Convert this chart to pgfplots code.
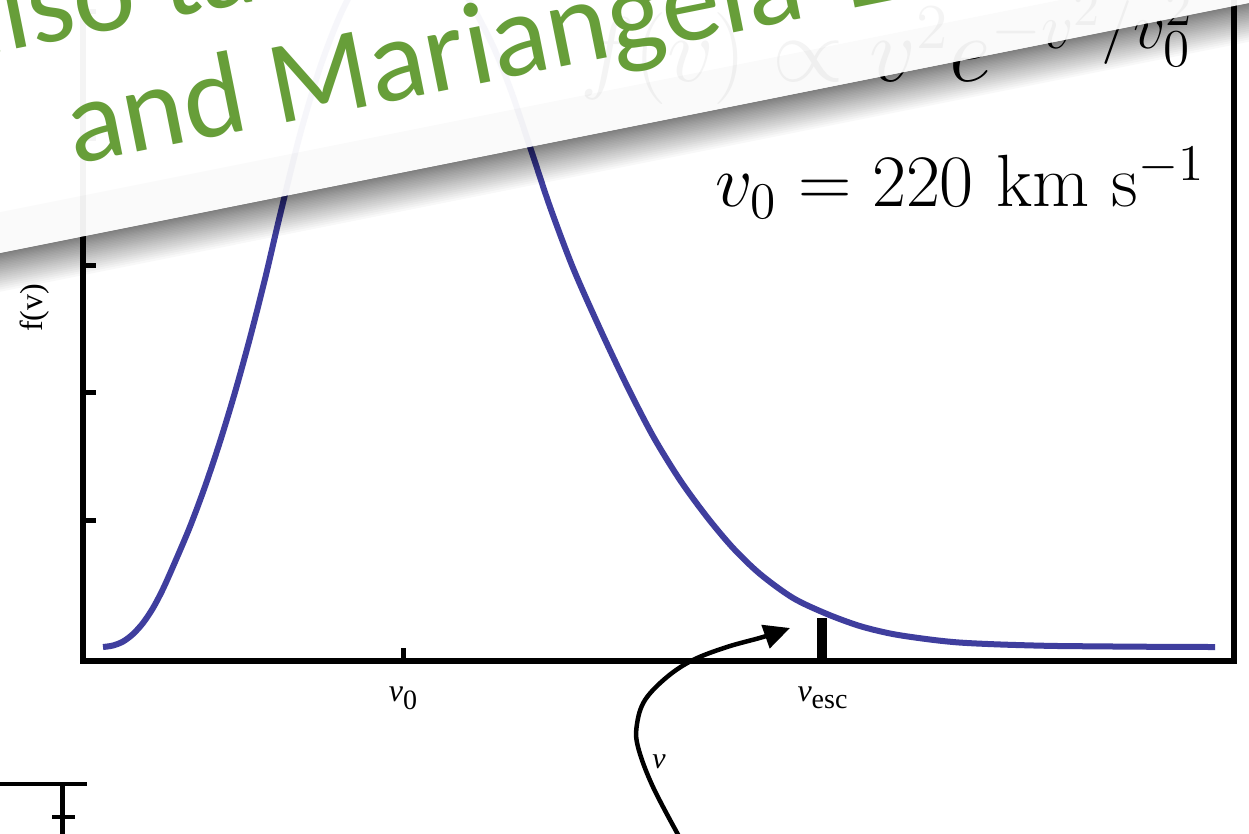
\documentclass[border=0pt]{standalone}
\usepackage{pgfplots}
\pgfplotsset{compat=1.18}
\usepackage{fontspec}
\usetikzlibrary{arrows.meta}
\newfontfamily\timesfont{Liberation Serif}
\newfontfamily\gillfont{Carlito}
\definecolor{curveblue}{RGB}{63,62,158}
\definecolor{bannergreen}{RGB}{103,158,57}

% speed distribution: v in km/s, f(v) in arbitrary units
\pgfplotstableread{
v      f
0.0    0.000
7.33   0.012
14.67  0.043
22.0   0.102
29.33  0.189
36.67  0.307
44.0   0.457
52.8   0.669
63.8   0.948
74.8   1.264
85.8   1.617
96.8   2.006
107.8  2.434
118.8  2.898
129.8  3.400
144.5  4.036
159.1  4.561
173.8  4.972
188.5  5.270
203.1  5.456
220.0  5.531
239.8  5.456
261.8  5.208
283.8  4.782
298.5  4.400
313.9  3.913
327.8  3.465
344.7  2.984
364.5  2.504
384.3  2.055
403.3  1.661
423.1  1.315
442.9  1.024
462.0  0.780
481.8  0.575
506.0  0.386
530.9  0.260
555.1  0.165
579.3  0.102
606.5  0.059
628.5  0.035
657.8  0.020
694.5  0.009
731.1  0.005
767.8  0.002
815.5  0.000
}\fvtable

\begin{document}
\begin{tikzpicture}
\useasboundingbox (0pt,0pt) rectangle (1249pt,834pt);
\clip (0pt,0pt) rectangle (1249pt,834pt);
\fill[white] (0pt,0pt) rectangle (1249pt,834pt);

% formulas in the upper right corner
\node[anchor=base east, inner sep=0pt, scale=4.436] at (1197pt,752pt)
  {\fontsize{20.74}{25}\selectfont $f(v) \propto v^2 e^{-v^2/v_0^2}$};
\node[anchor=base east, inner sep=0pt, scale=3.568] at (1206pt,627pt)
  {\fontsize{20.74}{25}\selectfont $v_0 = 220\ \mathrm{km\ s^{-1}}$};

\begin{axis}[
  at={(83pt,173pt)}, anchor=south west,
  scale only axis, width=1150.5pt, height=741pt,
  xmin=-14.67, xmax=829.0, ymin=-0.110, ymax=5.724,
  axis line style={line width=6pt, black},
  major tick style={line width=5pt, black},
  major tick length=13pt,
  tick align=inside,
  xtick={220,527.6},
  xticklabels={{\itshape v\raisebox{-8pt}{\upshape\fontsize{28}{28}\selectfont 0}},
               {\itshape v\raisebox{-7pt}{\upshape\fontsize{28}{28}\selectfont esc}}},
  xtick pos=bottom,
  xticklabel style={inner sep=0pt, yshift=-26pt, anchor=north,
                    font=\timesfont\fontsize{32}{32}\selectfont},
  ytick={1,2,3,4,5}, yticklabels={}, ytick pos=left,
  ylabel={f(v)},
  ylabel style={at={(axis description cs:-0.0417,0.4764)}, anchor=center,
                font=\timesfont\fontsize{32}{32}\selectfont},
]
\addplot[curveblue, line width=6pt, smooth, tension=0.5] table[x=v, y=f] {\fvtable};
% escape speed marker
\draw[black, line width=10pt] (axis cs:527.6,-0.110) -- (axis cs:527.6,0.228);
\end{axis}

% corner of the panel below
\draw[black, line width=4pt] (-5pt,50pt) -- (87pt,50pt);
\draw[black, line width=5pt] (62.5pt,50pt) -- (62.5pt,-5pt);
\draw[black, line width=4pt] (52pt,17pt) -- (75pt,17pt);

% curved arrow for the particle speed
\draw[black, line width=4.5pt, -{Triangle[length=26pt,width=24pt]}]
  plot[smooth, tension=0.6] coordinates {(681pt,-6pt) (653pt,47pt) (638pt,87pt)
    (637pt,110pt) (645pt,134pt) (667pt,157pt) (693pt,174pt) (727pt,187pt)
    (763pt,197pt) (790pt,206pt)};
\node[font=\timesfont\itshape\fontsize{30}{30}\selectfont] at (659pt,72pt) {v};

% tilted credit banner with drop shadow
\begin{scope}[shift={(0pt,581pt)}, rotate=11.32, x=1pt, y=1pt]
  \foreach \i in {1,...,24} {
    \pgfmathsetmacro\d{38*(\i/24)^1.4}
    \fill[black, opacity=0.028] (-300,0) rectangle (1600,-\d);
  }
  \fill[white, opacity=0.955] (-300,0) rectangle (1600,600);
  \fill[black, opacity=0.02] (-300,0) rectangle (1600,40);
  \node[anchor=base west, inner sep=0pt, rotate=11.32, text=bannergreen,
        font=\gillfont\fontsize{118}{118}\selectfont] at (-9,197) {also taken from};
  \node[anchor=base west, inner sep=0pt, rotate=11.32, text=bannergreen,
        font=\gillfont\fontsize{118}{118}\selectfont] at (90,72) {and Mariangela\hspace{0.12em} Lisanti};
\end{scope}
\end{tikzpicture}
\end{document}
